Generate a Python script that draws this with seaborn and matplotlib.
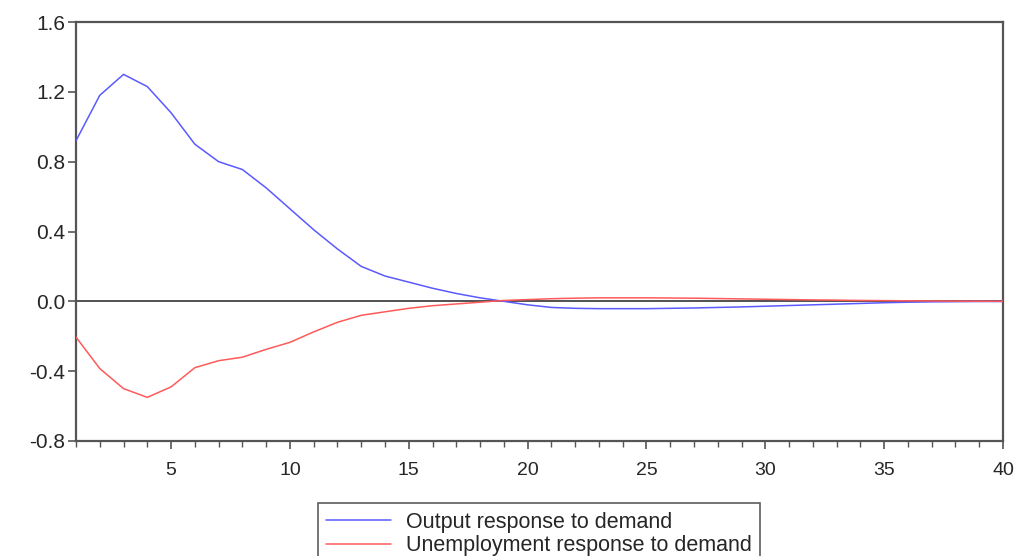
import matplotlib
matplotlib.use("Agg")
import matplotlib.pyplot as plt
import seaborn as sns
import pandas as pd
from matplotlib.ticker import MultipleLocator

periods = list(range(1, 41))
output_resp = [0.92, 1.18, 1.30, 1.23, 1.08, 0.90, 0.80, 0.755, 0.65, 0.53,
               0.41, 0.30, 0.20, 0.145, 0.11, 0.075, 0.045, 0.02, 0.0, -0.02,
               -0.035, -0.04, -0.042, -0.042, -0.042, -0.04, -0.038, -0.035, -0.032, -0.028,
               -0.024, -0.02, -0.016, -0.012, -0.008, -0.005, -0.003, -0.002, -0.001, -0.001]
unemp_resp = [-0.205, -0.385, -0.50, -0.55, -0.49, -0.38, -0.34, -0.32, -0.275, -0.235,
              -0.175, -0.12, -0.08, -0.06, -0.04, -0.025, -0.015, -0.005, 0.005, 0.01,
              0.015, 0.018, 0.02, 0.02, 0.02, 0.019, 0.018, 0.016, 0.014, 0.012,
              0.01, 0.008, 0.007, 0.005, 0.004, 0.003, 0.002, 0.001, 0.001, 0.0]
labels = ["Output response to demand", "Unemployment response to demand"]
colors = ["#5a5aff", "#ff5a5a"]

sns.set_style("ticks")
plt.rcParams["font.family"] = ["Liberation Sans", "DejaVu Sans"]

df = pd.DataFrame({
    "period": periods * 2,
    "value": output_resp + unemp_resp,
    "series": [labels[0]] * len(periods) + [labels[1]] * len(periods),
})

fig = plt.figure(figsize=(10.19, 5.56), dpi=100)
ax = fig.add_axes([76 / 1019, 1 - 441 / 556, (1003 - 76) / 1019, (441 - 22) / 556])

ax.axhline(0, color="#333333", lw=1.2, zorder=1)
sns.lineplot(data=df, x="period", y="value", hue="series", palette=colors,
             hue_order=labels, lw=1.1, ax=ax, legend=False, zorder=3)

ax.set_xlim(1, 40)
ax.set_ylim(-0.8, 1.6)
ax.xaxis.set_major_locator(MultipleLocator(5))
ax.xaxis.set_minor_locator(MultipleLocator(1))
ax.yaxis.set_major_locator(MultipleLocator(0.4))
ax.set_yticklabels([f"{v:.1f}" for v in ax.get_yticks()])
ax.set_xlabel("")
ax.set_ylabel("")
for s in ax.spines.values():
    s.set_color("#555555")
    s.set_linewidth(1.6)
ax.tick_params(axis="both", which="major", color="#555555", width=1.2, length=6)
ax.tick_params(axis="y", which="major", labelsize=15, pad=2)
ax.tick_params(axis="x", which="major", labelsize=14, pad=9)
ax.tick_params(axis="x", which="minor", color="#555555", width=1.0, length=4)

handles = [plt.Line2D([], [], color=c, lw=1.1) for c in colors]
leg = fig.legend(handles, labels, loc="upper center", bbox_to_anchor=(0.529, 1 - 503 / 556),
                 frameon=True, fancybox=False, fontsize=15.5, handlelength=3.0,
                 handletextpad=0.7, borderpad=0.4, labelspacing=0.12,
                 borderaxespad=0, edgecolor="#333333")
leg.get_frame().set_linewidth(1.2)

fig.savefig("out.png", dpi=100)
